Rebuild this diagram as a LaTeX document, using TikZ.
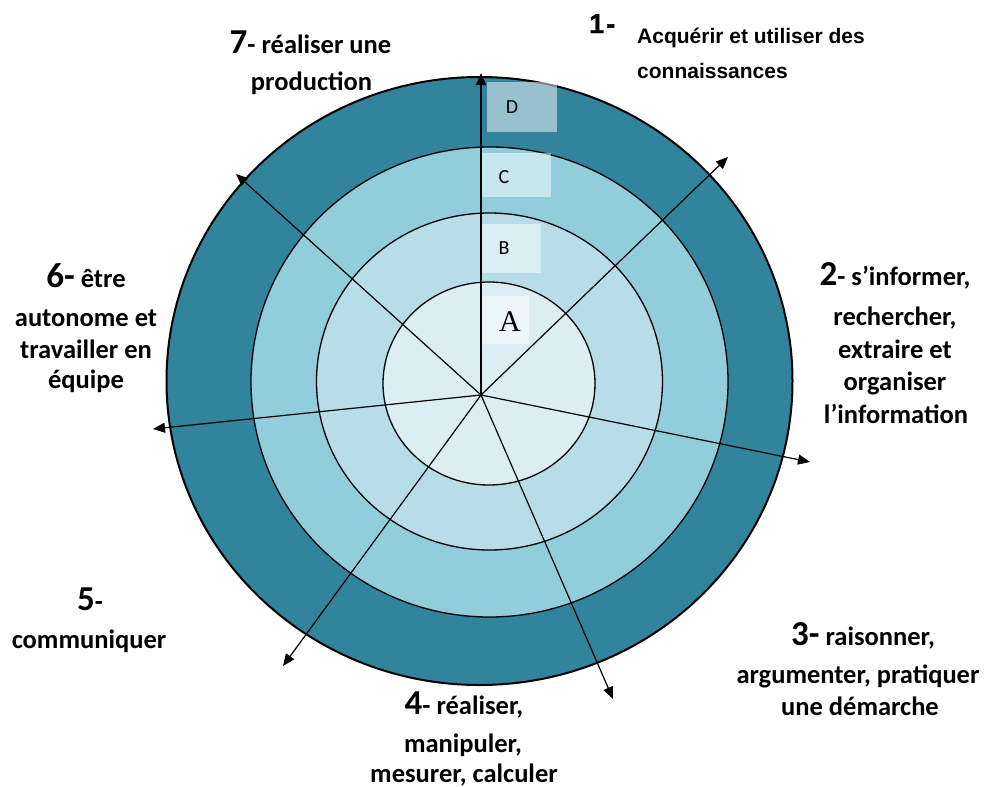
\documentclass[tikz,border=0pt]{standalone}
\usepackage{fontspec}
\setmainfont{Carlito}
\newfontfamily\arialfont{Liberation Sans}
\newfontfamily\arialheavy[FakeBold=1.5]{Liberation Sans}
\newfontfamily\timesfont{Liberation Serif}
\usetikzlibrary{arrows.meta}
\definecolor{ringD}{HTML}{31849B}
\definecolor{ringC}{HTML}{92CDDC}
\definecolor{ringB}{HTML}{B7DDE8}
\definecolor{ringA}{HTML}{DAEEF3}
\tikzset{
  txt/.style={anchor=base, inner sep=0pt, font=\bfseries\fontsize{26.5}{30}\selectfont},
  txtone/.style={anchor=base west, inner sep=0pt, font=\arialfont\bfseries\fontsize{21}{25}\selectfont},
  ray/.style={line width=1.2pt, -{Triangle[length=12pt,width=10pt]}},
  ringline/.style={line width=1.3pt},
  outerline/.style={line width=2pt},
  lvlbox/.style={fill=white, fill opacity=0.5, draw=none},
  lvl/.style={font=\fontsize{20}{24}\selectfont, inner sep=0pt},
}
\newcommand{\bignum}[1]{{\fontsize{35}{40}\selectfont #1}}
\begin{document}
\begin{tikzpicture}[x=1pt,y=-1pt]
\useasboundingbox (0,0) rectangle (986,787);
% rings
\fill[ringD] (479.5,381) ellipse [x radius=313, y radius=304];
\fill[ringC] (489.5,382) ellipse [x radius=238.5, y radius=235];
\fill[ringB] (489.5,381.5) ellipse [x radius=173, y radius=168.5];
\fill[ringA] (489,383.5) ellipse [x radius=106, y radius=101.5];
\draw[outerline] (479.5,381) ellipse [x radius=313, y radius=304];
\draw[ringline] (489.5,382) ellipse [x radius=238.5, y radius=235];
\draw[ringline] (489.5,381.5) ellipse [x radius=173, y radius=168.5];
\draw[ringline] (489,383.5) ellipse [x radius=106, y radius=101.5];
% level boxes
\fill[lvlbox] (487,82) rectangle (557,132);
\fill[lvlbox] (482,153) rectangle (551,197);
\fill[lvlbox] (482,224) rectangle (541,273);
\fill[lvlbox] (482,296) rectangle (529,344);
\node[lvl] (lD) at (512,107) {D};
\node[lvl] (lC) at (504,177) {C};
\node[lvl] (lB) at (504,248) {B};
\node[inner sep=0pt, font=\timesfont\fontsize{30}{34}\selectfont] (lA) at (510,322) {A};
% rays
\coordinate (O) at (481,395);
\coordinate (t1) at (481,73);
\coordinate (t2) at (728,157);
\coordinate (t3) at (810,462);
\coordinate (t4) at (613,699);
\coordinate (t5) at (283,666);
\coordinate (t6) at (153,429);
\coordinate (t7) at (236,174);
\foreach \t in {t1,t2,t3,t4,t5,t6,t7} \draw[ray] (O) -- (\t);
% label 1
\node[txtone, font=\arialheavy\bfseries\fontsize{27}{30}\selectfont] (n1num) at (589,33) {1\kern2pt-};
\node[txtone] (n1a) at (637,43) {Acquérir et utiliser des};
\node[txtone] (n1b) at (637,78) {connaissances};
% label 2
\node[txt] (n2a) at (895,285) {\bignum{2}- s’informer,};
\node[txt] (n2b) at (895,325) {rechercher,};
\node[txt] (n2c) at (895,358) {extraire et};
\node[txt] (n2d) at (895,390) {organiser};
\node[txt] (n2e) at (896,423) {l’information};
% label 3
\node[txt] (n3a) at (863,645) {\bignum{3-} raisonner,};
\node[txt] (n3b) at (858,683) {argumenter, pratiquer};
\node[txt] (n3c) at (860,715) {une démarche};
% label 4
\node[txt] (n4a) at (464,714) {\bignum{4}- réaliser,};
\node[txt] (n4b) at (463,752) {manipuler,};
\node[txt] (n4c) at (464,782) {mesurer, calculer};
% label 5
\node[txt] (n5a) at (90,610) {\bignum{5}-};
\node[txt] (n5b) at (89,648) {communiquer};
% label 6
\node[txt] (n6a) at (86,287) {\bignum{6-} être};
\node[txt] (n6b) at (86,326) {autonome et};
\node[txt] (n6c) at (86,358) {travailler en};
\node[txt] (n6d) at (86,388) {équipe};
% label 7
\node[txt] (n7a) at (310.5,53) {\bignum{7}- réaliser une};
\node[txt] (n7b) at (311.5,90) {production};
\end{tikzpicture}
\end{document}
